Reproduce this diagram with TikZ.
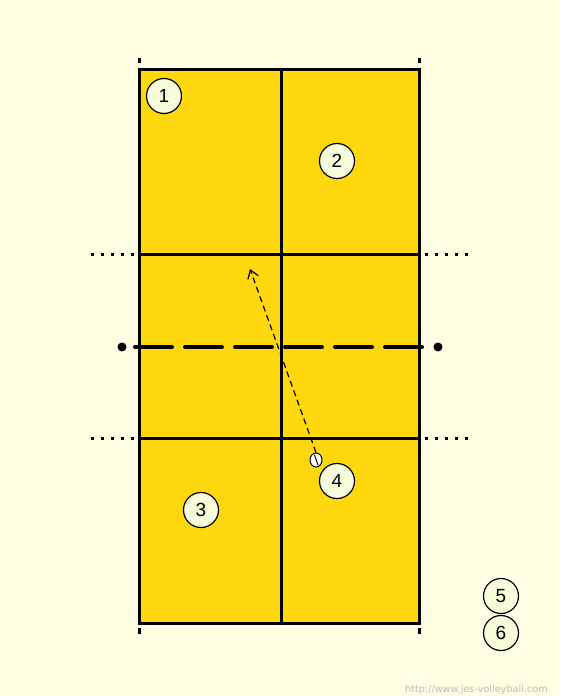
\documentclass[tikz,border=0pt]{standalone}
\usepackage{fontspec}
\setmainfont{Liberation Sans}
\newfontfamily\urlfont{DejaVu Sans}
\usetikzlibrary{arrows.meta,shapes.geometric}
\definecolor{bgcream}{HTML}{FFFDE2}
\definecolor{courtgold}{HTML}{FFD70F}
\definecolor{playerfill}{HTML}{F7FCDA}
\definecolor{urlgray}{HTML}{BDBDBD}

\begin{document}
\begin{tikzpicture}
		[x=1pt, y=-1pt,
		player/.style={circle, draw, line width=1.2pt, fill=playerfill,
			minimum size=35pt, inner sep=0pt, font=\fontsize{19}{19}\selectfont},
		courtline/.style={line width=3pt},
		sidedots/.style={line width=3pt, dash pattern=on 3pt off 7pt},
		corner/.style={line width=3pt}]
		\fill[bgcream] (0,0) rectangle (560,696);
		\useasboundingbox (0,0) rectangle (560,696);

		% court
		\fill[courtgold] (139,69) rectangle (419,623);
		\draw[courtline] (281,69) -- (281,623);
		\draw[courtline] (139,254) -- (419,254);
		\draw[courtline] (139,438) -- (419,438);
		\draw[courtline] (139,69) rectangle (419,623);
		\draw[sidedots] (91,254) -- (135,254);
		\draw[sidedots] (425,254) -- (469,254);
		\draw[sidedots] (91,438) -- (135,438);
		\draw[sidedots] (425,438) -- (469,438);
		\draw[corner] (139,58) -- (139,63);
		\draw[corner] (419,58) -- (419,63);
		\draw[corner] (139,628) -- (139,634);
		\draw[corner] (419,628) -- (419,634);

		% net
		\draw[line width=4pt, line cap=round, dash pattern=on 37pt off 13pt] (135,347) -- (423,347);
		\fill (122,347) circle (4.5);
		\fill (438,347) circle (4.5);

		% players
		\node[player] (p1) at (164,96) {1};
		\node[player] (p2) at (337,161) {2};
		\node[player] (p3) at (201,510) {3};
		\node[player] (p4) at (337,481) {4};
		\node[player] (p5) at (501,596) {5};
		\node[player] (p6) at (501,633) {6};

		% ball
		\node (ball) [ellipse, draw, line width=1pt, fill=white,
			minimum width=12pt, minimum height=14pt, inner sep=0pt] at (316,460) {};
		\draw[line width=1pt] (314.5,455) -- (318,465);
		\coordinate (aim) at (250,269);
		\draw[-{Straight Barb[length=8pt,width=11pt]}, line width=1.2pt,
			dash pattern=on 6pt off 4pt] (ball.north) -- (aim);

		\node[anchor=base east, text=urlgray, font=\urlfont\fontsize{9.7}{10}\selectfont,
			inner sep=0pt] (url) at (548,692) {http://www.jes-volleyball.com};
	\end{tikzpicture}
\end{document}
